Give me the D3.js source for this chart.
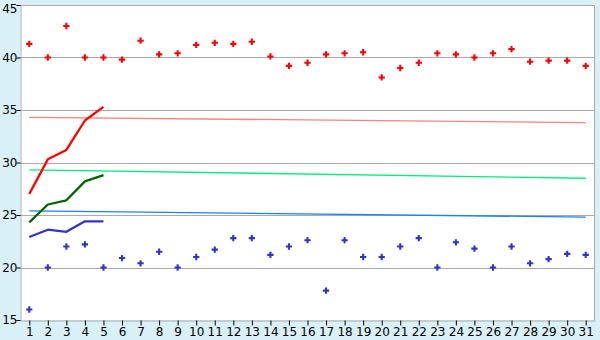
<!DOCTYPE html>
<html lang="en">
<head>
<meta charset="UTF-8">
<title>Chart</title>
<style>
  body { margin: 0; background: #d9f0f7; }
  svg { display: block; }
  text { font-family: Verdana, "DejaVu Sans", sans-serif; font-size: 12px; fill: #000; }
</style>
</head>
<body>
<div id="svg"></div>
<script src="https://cdn.jsdelivr.net/npm/d3@7"></script>
<script>
// days on the x axis
var days = d3.range(1, 32);
var yTicks = [15, 20, 25, 30, 35, 40, 45];

// scattered daily points
var redPoints = [41.3, 40.0, 43.0, 40.0, 40.0, 39.8, 41.6, 40.3, 40.4, 41.2,
                 41.4, 41.3, 41.5, 40.1, 39.2, 39.5, 40.3, 40.4, 40.5, 38.1,
                 39.0, 39.5, 40.4, 40.3, 40.0, 40.4, 40.8, 39.6, 39.7, 39.7, 39.2];
var bluePoints = [16.0, 20.0, 22.0, 22.2, 20.0, 20.9, 20.4, 21.5, 20.0, 21.0,
                  21.7, 22.8, 22.8, 21.2, 22.0, 22.6, 17.8, 22.6, 21.0, 21.0,
                  22.0, 22.8, 20.0, 22.4, 21.8, 20.0, 22.0, 20.4, 20.8, 21.3, 21.2];

// first five days lines
var redLine = [27.0, 30.3, 31.2, 34.0, 35.3];
var greenLine = [24.3, 26.0, 26.4, 28.2, 28.8];
var blueLine = [22.9, 23.6, 23.4, 24.4, 24.4];

// thin trend lines (start day 1, end day 31)
var redTrend = [[1, 34.3], [31, 33.8]];
var greenTrend = [[1, 29.3], [31, 28.5]];
var blueTrend = [[1, 25.4], [31, 24.8]];

const width = 600, height = 340;
const padding = {top: 5, left: 20, right: 5, bottom: 20};
const plotW = width - padding.left - padding.right;
const plotH = height - padding.top - padding.bottom;

const svg = d3.select("#svg").append("svg").attr("width", width).attr("height", height);

const xScale = d3.scalePoint().domain(days).range([0, plotW]).padding(0.5);
const yScale = d3.scaleLinear().domain([15, 45]).range([plotH, 0]);

const g = svg.append("g").attr("transform", `translate(${padding.left},${padding.top})`);

// plot background
g.append("rect").attr("width", plotW).attr("height", plotH).attr("fill", "#fff");

// grid lines
g.append("g").selectAll("line").data(yTicks.slice(1)).enter().append("line")
  .attr("x1", 0).attr("x2", plotW)
  .attr("y1", d => Math.round(yScale(d)) + 0.5).attr("y2", d => Math.round(yScale(d)) + 0.5)
  .attr("stroke", "#aaa");
g.append("line").attr("x1", plotW - 0.5).attr("x2", plotW - 0.5).attr("y1", 0).attr("y2", plotH)
  .attr("stroke", "#aaa");

// axes
const yAxis = d3.axisLeft(yScale).tickValues(yTicks).tickSize(4).tickPadding(2);
const gy = g.append("g").attr("transform", "translate(0.5,0)").call(yAxis);
gy.select(".domain").attr("stroke", "#aaa");
gy.selectAll(".tick line").attr("stroke", "#000");
gy.selectAll("text").attr("x", -3).style("font-size", "12px");
gy.selectAll("text").filter(d => d === 45).attr("dy", "0.65em"); // keep top label inside

const xAxis = d3.axisBottom(xScale).tickSize(5).tickPadding(2).tickSizeOuter(0);
const gx = g.append("g").attr("transform", `translate(0,${plotH + 0.5})`).call(xAxis);
gx.select(".domain").attr("stroke", "#aaa");
gx.selectAll(".tick line").attr("stroke", "#000");
gx.selectAll("text").style("font-size", "12px");

// trend lines
const trendLine = d3.line().x(d => xScale(d[0])).y(d => yScale(d[1]));
[[redTrend, "#ff8080"], [greenTrend, "#00f080"], [blueTrend, "#1a80ff"]].forEach(function(t) {
  g.append("path").attr("d", trendLine(t[0])).attr("stroke", t[1]).attr("stroke-width", 1.3).attr("fill", "none");
});

// first days lines
const pathLine = d3.line().x((d, i) => xScale(days[i])).y(d => yScale(d));
[[redLine, "#ff0000"], [greenLine, "#006600"], [blueLine, "#3333cc"]].forEach(function(l) {
  g.append("path").attr("d", pathLine(l[0])).attr("stroke", l[1]).attr("stroke-width", 2.3)
    .attr("stroke-linejoin", "round").attr("fill", "none");
});

// points
const cross = d3.symbol().type(d3.symbolCross).size(22);
[[redPoints, "#ff0000"], [bluePoints, "#3333cc"]].forEach(function(p) {
  g.append("g").selectAll("path").data(p[0]).enter().append("path")
    .attr("d", cross)
    .attr("transform", (d, i) => `translate(${xScale(days[i])},${yScale(d)})`)
    .attr("fill", p[1]);
});
</script>
</body>
</html>
